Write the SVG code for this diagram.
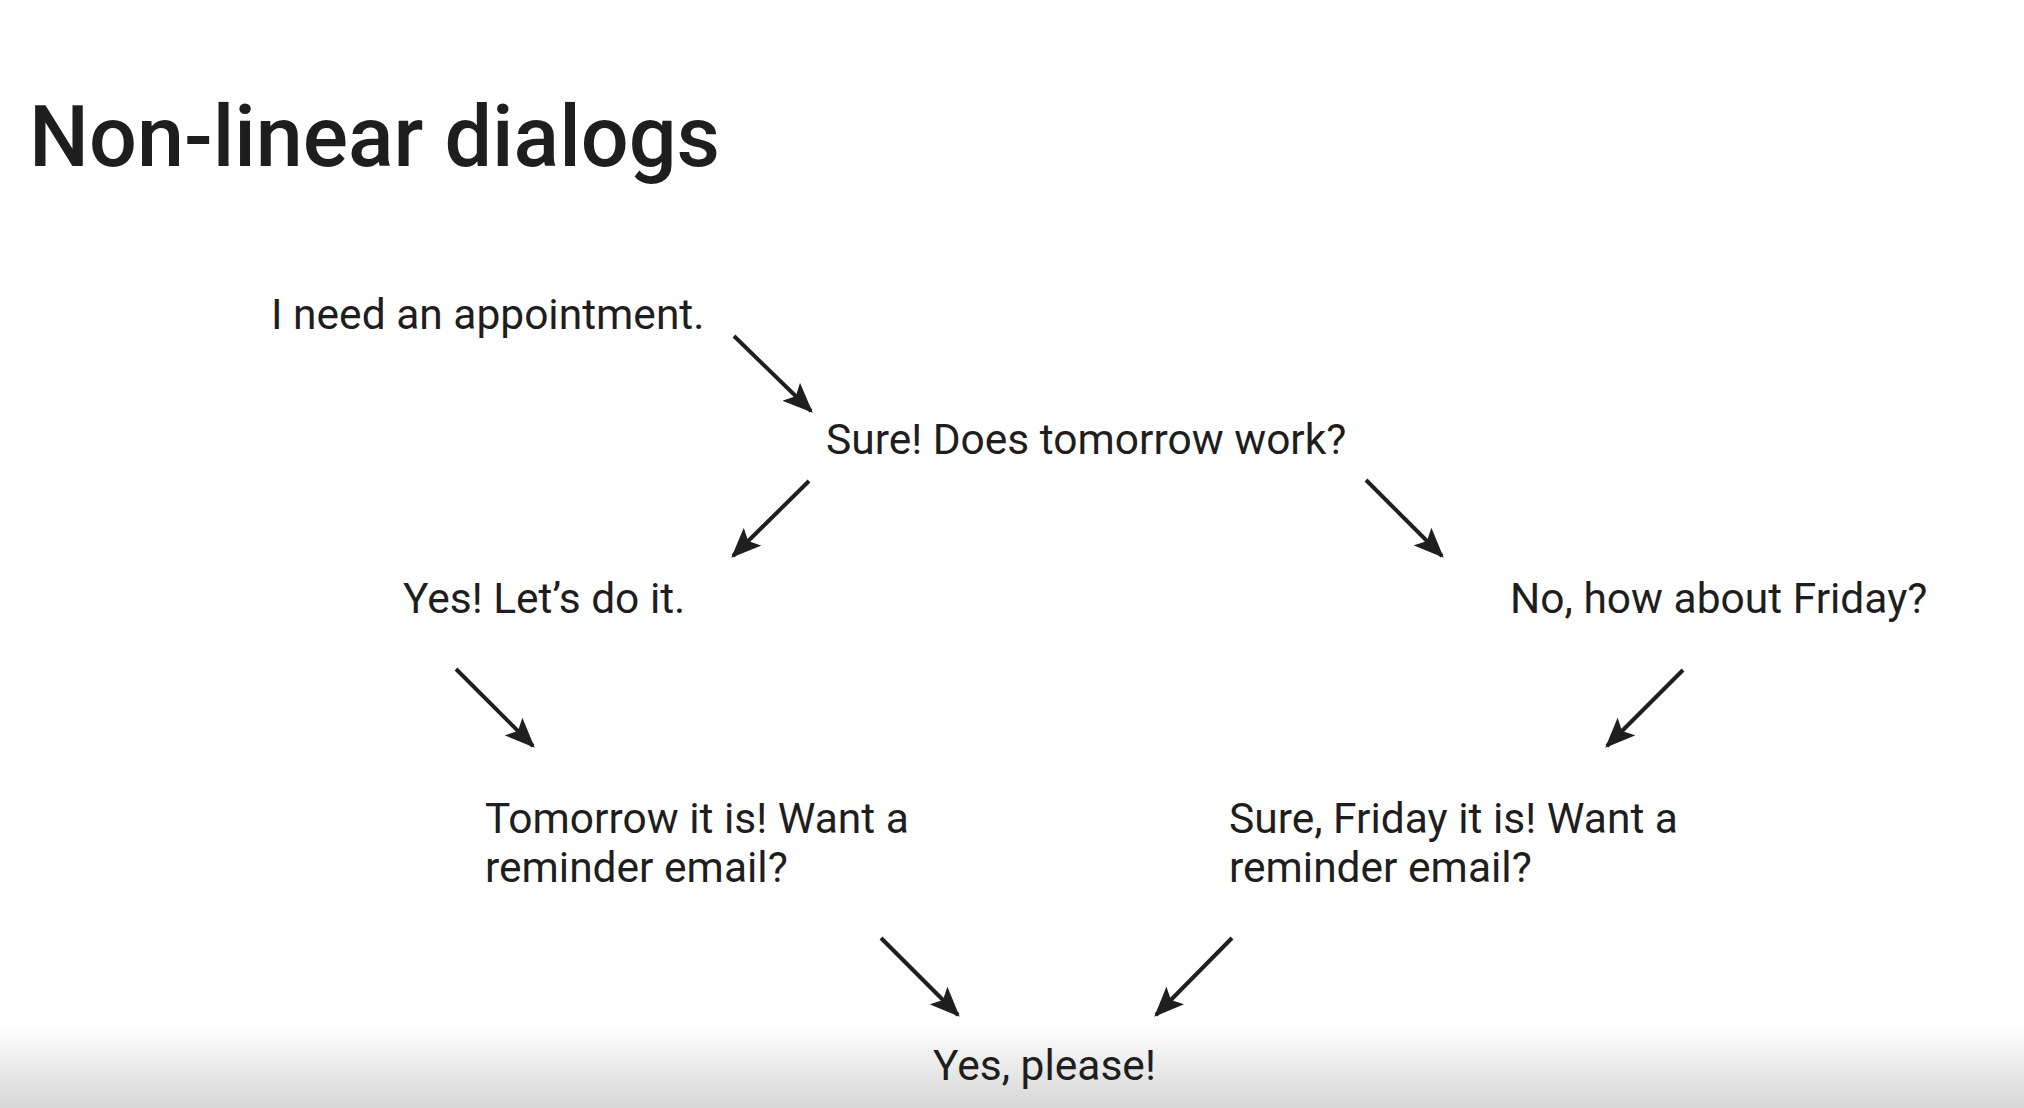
<svg xmlns="http://www.w3.org/2000/svg" width="2024" height="1108" viewBox="0 0 2024 1108">
<defs>
<linearGradient id="shade" x1="0" y1="0" x2="0" y2="1">
<stop offset="0" stop-color="#ffffff"/>
<stop offset="1" stop-color="#d6d6d6"/>
</linearGradient>
<marker id="ah" viewBox="0 0 12 10" refX="11" refY="5" markerWidth="7.5" markerHeight="6.25" orient="auto" markerUnits="strokeWidth">
<path d="M0,0 L12,5 L0,10 L2.5,5 Z" fill="#1f1f1f"/>
</marker>
<style>
.t{font-family:Roboto,"Liberation Sans",sans-serif;fill:#1e1e1e;font-size:42.5px}
.title{font-family:Roboto,"Liberation Sans",sans-serif;fill:#1e1e1e;font-size:84.5px;font-weight:500}
.c line{stroke:#1f1f1f;stroke-width:4;marker-end:url(#ah)}
</style>
</defs>
<rect width="2024" height="1108" fill="#ffffff"/>
<rect x="0" y="1025" width="2024" height="83" fill="url(#shade)"/>
<text class="title" x="29" y="166">Non-linear dialogs</text>
<g id="n1"><text class="t" x="271" y="329">I need an appointment.</text></g>
<g id="n2"><text class="t" x="826" y="454">Sure! Does tomorrow work?</text></g>
<g id="n3"><text class="t" x="403" y="613">Yes! Let’s do it.</text></g>
<g id="n4"><text class="t" x="1510" y="613">No, how about Friday?</text></g>
<g id="n5"><text class="t" x="485" y="833">Tomorrow it is! Want a</text><text class="t" x="485" y="882">reminder email?</text></g>
<g id="n6"><text class="t" x="1229" y="833">Sure, Friday it is! Want a</text><text class="t" x="1229" y="882">reminder email?</text></g>
<g id="n7"><text class="t" x="933" y="1080">Yes, please!</text></g>
<g id="connectors" class="c">
<line x1="734" y1="336" x2="811" y2="411"/>
<line x1="809" y1="481" x2="733" y2="556"/>
<line x1="1366" y1="480" x2="1442" y2="556"/>
<line x1="456" y1="669" x2="533" y2="746"/>
<line x1="1683" y1="670" x2="1607" y2="746"/>
<line x1="881" y1="938" x2="958" y2="1015"/>
<line x1="1232" y1="938" x2="1156" y2="1015"/>
</g>
</svg>
